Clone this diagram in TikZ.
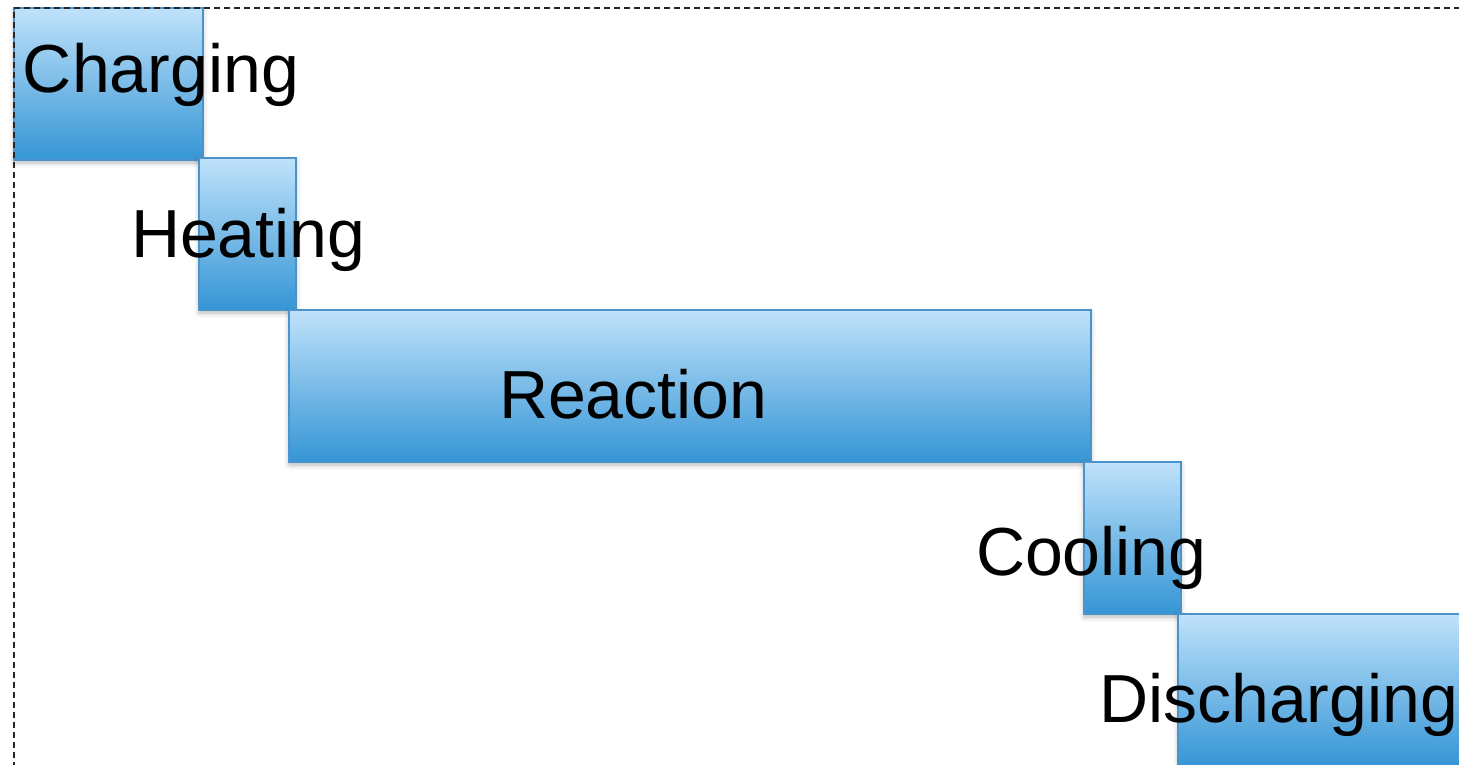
\documentclass[tikz,border=0pt]{standalone}
\usepackage{fontspec}
\setmainfont{Liberation Sans}
\usetikzlibrary{shadows.blur}

\definecolor{boxtop}{HTML}{C0E2FB}
\definecolor{boxbottom}{HTML}{3595D5}
\definecolor{boxedge}{HTML}{4A94CE}

\tikzset{
  stagebox/.style={
    draw=boxedge, line width=1.3pt, inner sep=0pt, outer sep=0pt,
    top color=boxtop, bottom color=boxbottom,
    blur shadow={shadow xshift=0pt, shadow yshift=-3pt,
                 shadow blur radius=5pt, shadow opacity=28,
                 shadow blur extra rounding=0pt}
  },
  stagelabel/.style={
    anchor=base west, inner sep=0pt, outer sep=0pt,
    font=\fontsize{68}{82}\selectfont, text=black
  },
  frameline/.style={draw=black!85, line width=1.6pt, dash pattern=on 6pt off 4pt}
}

\begin{document}
\begin{tikzpicture}[x=1pt, y=-1pt]
  \useasboundingbox (0,0) rectangle (1459,764);

  % process stages, each one starting where the previous ends
  \node[stagebox, minimum width=189pt, minimum height=152pt] (charging)
    at (108.5,84) {};
  \node[stagebox, minimum width=97pt, minimum height=152pt] (heating)
    at (247.5,234) {};
  \node[stagebox, minimum width=802pt, minimum height=152pt] (reaction)
    at (690,386) {};
  \node[stagebox, minimum width=97pt, minimum height=152pt] (cooling)
    at (1132.5,538) {};
  \node[stagebox, minimum width=300pt, minimum height=152pt] (discharging)
    at (1328,690) {};

  % dashed outline of the process window
  \coordinate (frameTL) at (14,8);
  \coordinate (frameTR) at (1470,8);
  \coordinate (frameBL) at (14,775);
  \draw[frameline] (frameTR) -- (frameTL) -- (frameBL);

  % stage names
  \node[stagelabel] (lblcharging)    at (23,92)   {Charging};
  \node[stagelabel] (lblheating)     at (131,257) {Heating};
  \node[stagelabel] (lblreaction)    at (499,418) {Reaction};
  \node[stagelabel] (lblcooling)     at (976,575) {Cooling};
  \node[stagelabel] (lbldischarging) at (1099,722) {Discharging};
\end{tikzpicture}
\end{document}
